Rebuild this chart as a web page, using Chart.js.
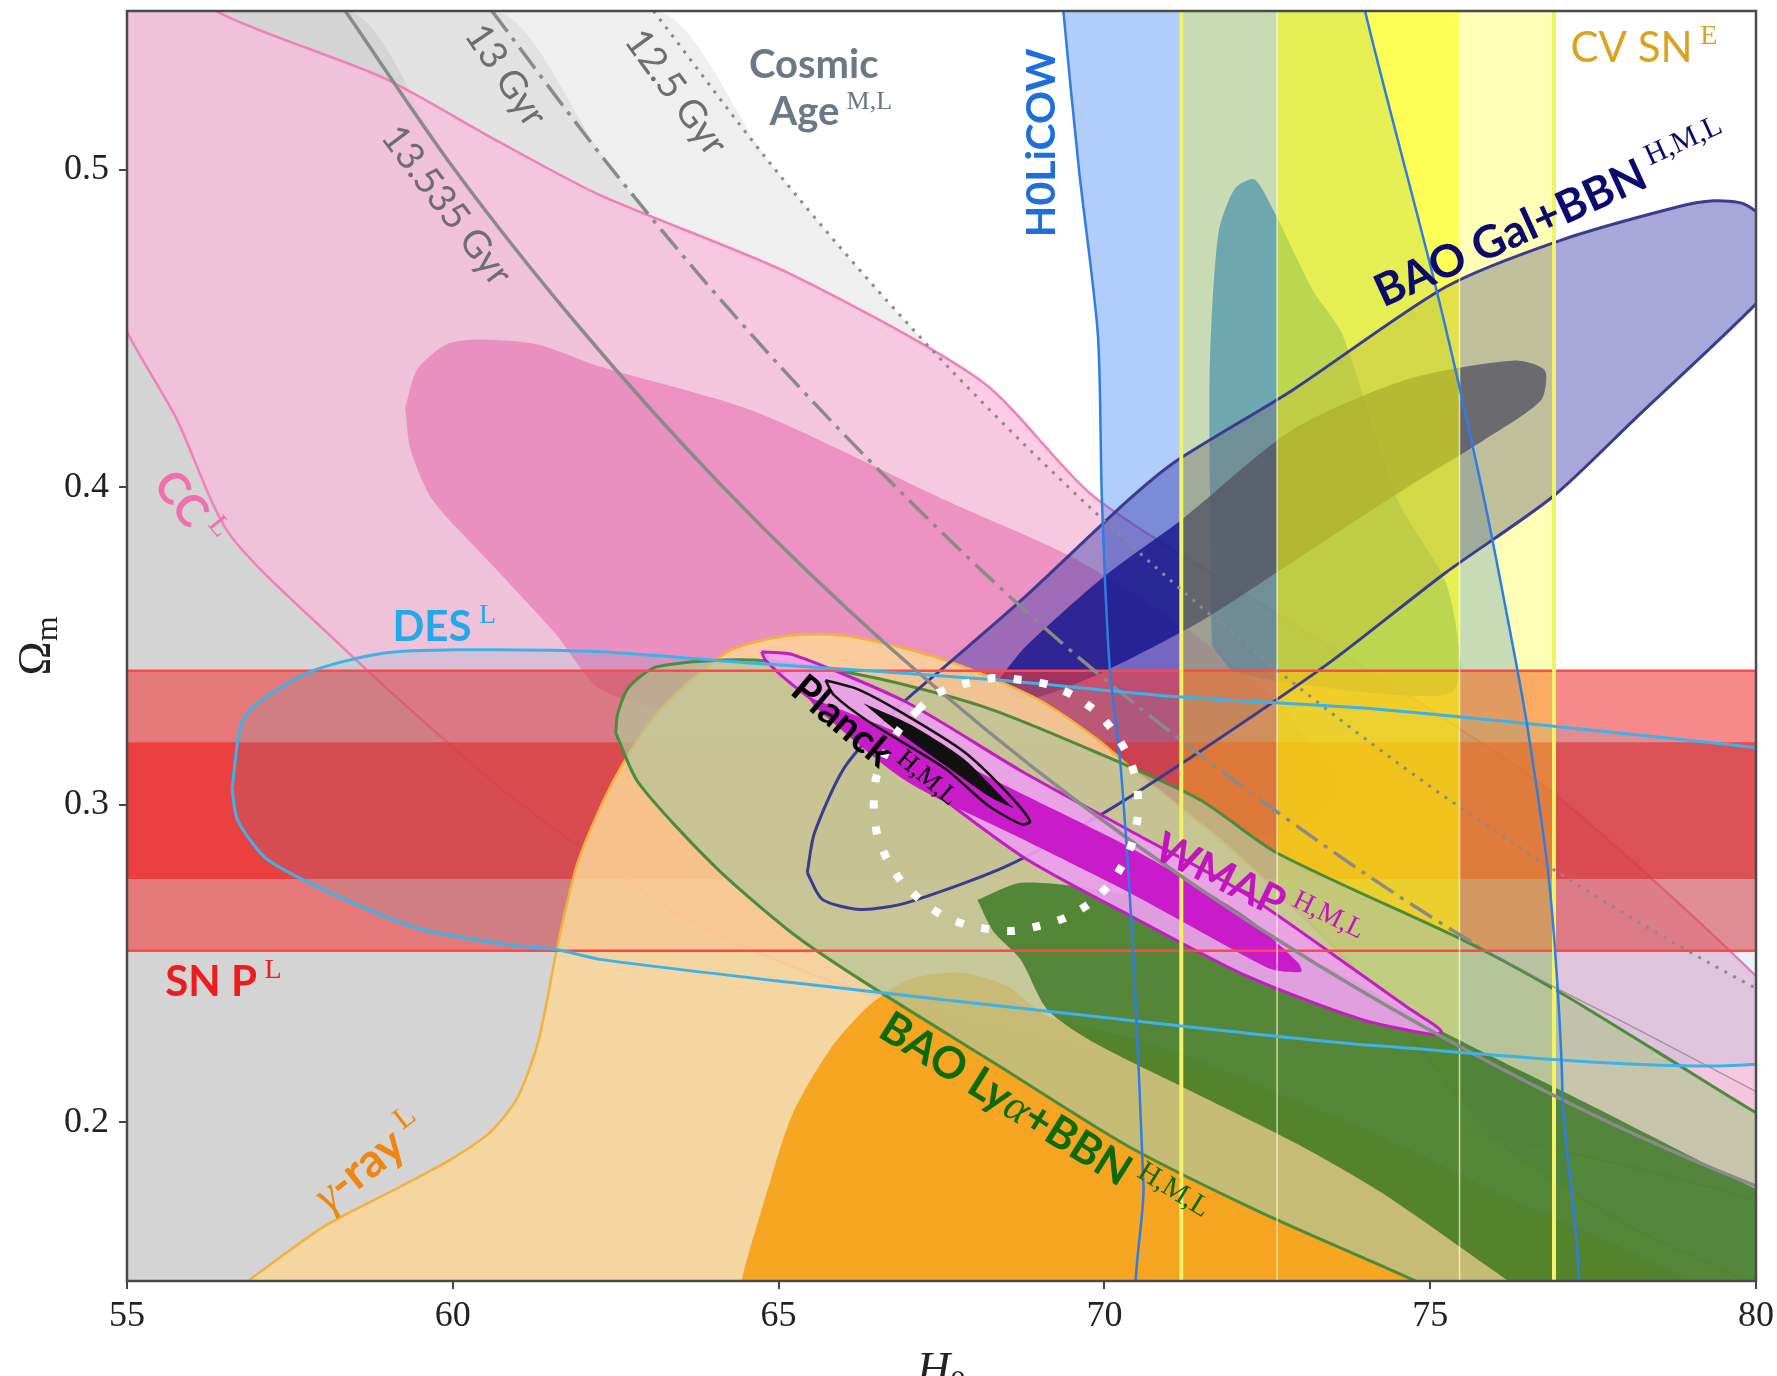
<!DOCTYPE html>
<html>
<head>
<meta charset="utf-8">
<title>H0 – Omega_m constraints</title>
<script src="https://cdn.jsdelivr.net/npm/chart.js@4.4.1/dist/chart.umd.min.js"></script>
<style>
  html, body { margin: 0; padding: 0; background: #fff; }
  canvas { display: block; }
</style>
</head>
<body>
<canvas id="chart" width="1777" height="1376"></canvas>
<script>
// ---------- axis ticks ----------
const xTicks = [55, 60, 65, 70, 75, 80];
const yTicks = [0.2, 0.3, 0.4, 0.5];

// ---------- cosmic age curves, [H0, Omega_m] ----------
const age13535 = [[58.35,0.55],[60.03,0.50],[61.96,0.45],[64.15,0.40],[66.68,0.35],[69.65,0.30],[73.24,0.25],[77.74,0.20],[83.7,0.15]];
const age13    = [[60.6,0.55],[62.45,0.50],[64.5,0.45],[66.8,0.40],[69.4,0.35],[72.5,0.30],[75.7,0.256],[78.3,0.228],[80.9,0.20]];
const age125   = [[63.08,0.55],[64.95,0.50],[67.05,0.45],[69.45,0.40],[72.2,0.35],[75.4,0.30],[79.3,0.25],[84.2,0.20]];

// ---------- cosmic chronometers ----------
const ccOuter = [[53.0,0.60],[54.5,0.575],[56.46,0.549],[58.93,0.529],[60.69,0.509],[62.26,0.492],[65.2,0.467],[68.14,0.433],[69.84,0.397],[72.5,0.362],[75.0,0.33],[76.95,0.3026],[80.0,0.246],[82.0,0.20],[84.0,0.16],[83.0,0.14],[80.0,0.175],[75.0,0.20],[70.0,0.222],[66.0,0.243],[63.5,0.265],[61.86,0.288],[60.69,0.306],[59.51,0.327],[58.34,0.349],[56.58,0.385],[55.75,0.422],[55.05,0.447],[54.3,0.48],[53.3,0.54],[53.0,0.60]];
const ccInner = [[59.27,0.425],[59.45,0.437],[59.9,0.445],[60.4,0.4465],[61.3,0.445],[62.26,0.438],[64.61,0.424],[67.55,0.396],[69.5,0.378],[71.3,0.355],[72.6,0.333],[73.4,0.313],[73.5,0.303],[73.0,0.294],[72.0,0.288],[70.44,0.29],[68.09,0.304],[65.16,0.322],[63.0,0.331],[62.22,0.337],[61.57,0.354],[60.63,0.375],[59.69,0.396],[59.35,0.412],[59.27,0.425]];

// ---------- supernovae (Pantheon), Omega_m bands ----------
const snpOuter = [0.254, 0.3422];
const snpInner = [0.2766, 0.3197];

// ---------- gamma-ray attenuation ----------
const gammaOuter = [[56.9,0.1507],[58.05,0.1675],[59.22,0.180],[59.98,0.1884],[60.57,0.1968],[60.98,0.2073],[61.28,0.223],[61.45,0.2387],[61.6,0.255],[61.92,0.282],[62.45,0.307],[63.14,0.329],[64.2,0.348],[65.05,0.353],[65.9,0.3535],[66.8,0.350],[67.84,0.3435],[69.0,0.333],[69.9,0.3205],[70.5,0.31],[72.0,0.285],[74.0,0.245],[76.0,0.195],[78.0,0.168],[80.0,0.148],[81.0,0.13],[56.5,0.13],[56.9,0.1507]];
const gammaInner = [[64.3,0.13],[64.44,0.1506],[64.79,0.1758],[65.2,0.202],[65.79,0.223],[66.38,0.2366],[67.0,0.245],[67.79,0.2471],[68.5,0.243],[69.12,0.2335],[70.86,0.224],[72.39,0.2115],[74.24,0.1957],[76.0,0.178],[78.0,0.16],[80.0,0.14],[81.0,0.12],[64.3,0.12],[64.3,0.13]];

// ---------- DES ----------
const desContour = [[56.61,0.305],[56.81,0.3278],[57.75,0.3414],[58.93,0.3477],[60.1,0.3488],[62.26,0.3482],[64.61,0.3446],[68.37,0.3393],[71.12,0.334],[74.24,0.330],[80.0,0.318],[83.0,0.31],[84.5,0.28],[83.5,0.24],[80.0,0.2183],[74.24,0.224],[70.0,0.233],[65.2,0.244],[62.26,0.2513],[61.57,0.2545],[60.98,0.2555],[59.51,0.2608],[58.34,0.2702],[57.16,0.2827],[56.7,0.295],[56.61,0.305]];

// ---------- H0LiCOW lensing ----------
const holicowOuter = [[69.3,0.57],[69.37,0.55],[69.61,0.50],[69.9,0.448],[69.96,0.397],[70.08,0.3435],[70.25,0.312],[70.45,0.25],[70.6,0.18],[70.68,0.13],[77.0,0.13],[77.03,0.2078],[76.95,0.244],[76.8,0.2806],[76.49,0.3247],[76.28,0.3488],[75.82,0.397],[75.11,0.461],[74.0,0.55],[73.85,0.57],[69.3,0.57]];
const holicowInner = [[71.65,0.35],[71.62,0.40],[71.62,0.44],[71.75,0.48],[72.0,0.494],[72.3,0.497],[72.6,0.487],[73.2,0.462],[73.65,0.4483],[74.5,0.396],[75.24,0.37],[75.47,0.343],[75.3,0.335],[74.2,0.335],[73.0,0.338],[72.0,0.342],[71.65,0.35]];

// ---------- BAO galaxies + BBN ----------
const baoGalOuter = [[65.44,0.2786],[65.55,0.2911],[66.02,0.312],[66.85,0.331],[67.55,0.3435],[68.73,0.3645],[70.37,0.396],[71.12,0.4085],[72.88,0.4305],[75.23,0.463],[76.99,0.4777],[78.76,0.4881],[79.35,0.4902],[79.82,0.4892],[80.25,0.482],[80.45,0.47],[80.0,0.4578],[78.17,0.4221],[76.88,0.397],[75.23,0.373],[73.47,0.345],[71.43,0.3163],[69.9,0.2963],[68.49,0.2806],[66.96,0.2691],[66.26,0.267],[65.67,0.2702],[65.44,0.2786]];
const baoGalInner = [[68.4,0.34],[68.8,0.35],[70.0,0.372],[71.2,0.39],[72.88,0.418],[74.65,0.434],[76.29,0.4399],[76.76,0.4368],[76.7,0.4274],[75.82,0.4148],[74.65,0.40],[73.0,0.378],[71.5,0.358],[70.0,0.342],[69.0,0.334],[68.6,0.334],[68.4,0.34]];

// ---------- Cepheid-variable supernovae, H0 bands ----------
const cvsnOuter = [71.18, 76.9];
const cvsnInner = [72.65, 75.45];

// ---------- BAO Lyman-alpha + BBN ----------
const baoLyaOuter = [[62.5,0.3226],[62.53,0.3286],[62.7,0.337],[63.14,0.3435],[64.61,0.3456],[66.38,0.3404],[68.14,0.3309],[69.9,0.3163],[71.47,0.3015],[72.65,0.2848],[75.59,0.2565],[77.0,0.2408],[78.5,0.222],[80.0,0.203],[82.0,0.18],[83.5,0.155],[83.0,0.12],[80.0,0.11],[77.0,0.13],[74.24,0.1549],[72.39,0.1717],[70.35,0.1926],[68.3,0.2188],[66.25,0.245],[65.2,0.2597],[64.02,0.2806],[62.85,0.3069],[62.5,0.3226]];
const baoLyaInner = [[68.05,0.27],[68.73,0.2754],[69.9,0.2733],[71.43,0.266],[73.5,0.248],[75.24,0.228],[77.5,0.205],[80.0,0.179],[82.0,0.16],[82.0,0.12],[78.0,0.125],[76.2,0.15],[74.24,0.178],[72.91,0.1937],[71.37,0.2094],[69.84,0.2251],[69.12,0.2356],[68.71,0.2513],[68.3,0.26],[68.05,0.27]];

// ---------- WMAP ----------
const wmapOuter = [[64.74,0.3482],[65.23,0.3472],[66.97,0.3322],[68.71,0.3108],[70.45,0.2912],[72.19,0.2716],[73.93,0.2467],[74.7,0.2355],[75.06,0.2307],[75.17,0.2285],[75.06,0.2275],[73.93,0.2325],[72.19,0.246],[70.45,0.2645],[68.71,0.2841],[66.27,0.3215],[65.2,0.338],[64.8,0.3455],[64.74,0.3482]];
const wmapInner = [[65.45,0.334],[66.97,0.3215],[68.71,0.3037],[70.45,0.2859],[72.19,0.2645],[72.97,0.2503],[73.02,0.2474],[72.6,0.248],[72.19,0.252],[70.45,0.2716],[68.71,0.2895],[66.97,0.3073],[65.58,0.3304],[65.45,0.334]];

// ---------- Planck ----------
const planckOuter = [[65.72,0.3392],[66.2,0.3365],[66.85,0.3295],[67.84,0.3168],[68.5,0.304],[68.86,0.2948],[68.73,0.2938],[68.2,0.300],[67.55,0.3115],[66.38,0.3262],[65.85,0.3345],[65.72,0.3392]];
const planckInner = [[66.3,0.332],[67.0,0.3255],[67.84,0.3145],[68.5,0.301],[68.6,0.299],[68.2,0.303],[67.55,0.3125],[66.8,0.3235],[66.3,0.332]];

// ---------- combined contour (white dotted) ----------
const dottedLoop = [[67.14,0.3299],[67.43,0.3351],[67.9,0.3383],[68.31,0.3399],[68.73,0.3393],[69.14,0.3378],[69.55,0.3341],[69.9,0.3289],[70.16,0.3226],[70.37,0.3152],[70.49,0.3074],[70.52,0.2985],[70.46,0.2901],[70.31,0.2822],[70.08,0.2749],[69.75,0.2686],[69.4,0.2644],[68.99,0.2618],[68.55,0.2602],[67.96,0.2618],[67.58,0.2644],[67.23,0.2691],[66.9,0.2754],[66.67,0.2827],[66.52,0.2901],[66.46,0.2985],[66.49,0.3079],[66.64,0.3163],[66.85,0.3236],[67.14,0.3299]];

// ---------- text labels ----------
const labels = [
  {h: 55.97, om: 0.3935, angle: 51, size: 44, color: '#f26fae', parts: [['CC','b'],['L','sup']]},
  {h: 59.87, om: 0.3564, angle: 0, size: 42, color: '#22a9ec', parts: [['DES','b'],['L','sup']]},
  {h: 56.48, om: 0.2446, angle: 0, size: 42, color: '#ee1c1c', parts: [['SN P','b'],['L','sup']]},
  {h: 58.71, om: 0.188, angle: -38, size: 47, color: '#f0850f', parts: [['\u03b3','it'],['-ray','b'],['L','sup']]},
  {h: 69.06, om: 0.2004, angle: 32, size: 44, color: '#0b6b0b', parts: [['BAO Ly','b'],['\u03b1','it'],['+BBN','b'],['H,M,L','sup']]},
  {h: 72.36, om: 0.2724, angle: 26, size: 42, color: '#c214c2', parts: [['WMAP','b'],['H,M,L','sup']]},
  {h: 66.45, om: 0.3187, angle: 40, size: 40, color: '#000000', parts: [['Planck','b'],['H,M,L','sup']]},
  {h: 76.85, om: 0.4862, angle: -24.5, size: 45, color: '#0b0b6e', parts: [['BAO Gal+BBN','b'],['H,M,L','sup']]},
  {h: 69.02, om: 0.5085, angle: -90, size: 41, color: '#1e6fdc', parts: [['H0LiCOW','b']]},
  {h: 78.28, om: 0.5388, angle: 0, size: 42, color: '#dca21e', parts: [['CV SN','r'],['E','sup']]},
  {h: 65.54, om: 0.5335, angle: 0, size: 40, color: '#6a7888', parts: [['Cosmic','b']]},
  {h: 65.8, om: 0.5185, angle: 0, size: 40, color: '#6a7888', parts: [['Age','b'],['M,L','sup']]},
  {h: 59.92, om: 0.489, angle: 53, size: 38, color: '#6e6e6e', parts: [['13.535 Gyr','r']]},
  {h: 60.83, om: 0.5299, angle: 56, size: 38, color: '#6e6e6e', parts: [['13 Gyr','r']]},
  {h: 63.44, om: 0.5246, angle: 54, size: 38, color: '#6e6e6e', parts: [['12.5 Gyr','r']]}
];

// ---------- dataset builders ----------
const toXY = arr => arr.map(([x, y]) => ({x, y}));
const datasets = [];

function addShape(data, color, tension) {
  datasets.push({
    data: toXY(data), fill: 'shape', backgroundColor: color,
    borderWidth: 0, borderColor: 'rgba(0,0,0,0)', pointRadius: 0,
    tension: tension === undefined ? 0.25 : tension
  });
}
function addLine(data, color, width, dash, mode, tension, segment) {
  const ds = {
    data: toXY(data), fill: false, borderColor: color, borderWidth: width,
    borderDash: dash || [], pointRadius: 0,
    tension: tension === undefined ? 0.25 : tension,
    cubicInterpolationMode: mode || 'default', borderCapStyle: 'butt'
  };
  if (segment) ds.segment = segment;
  datasets.push(ds);
}
function addAgeFill(data, color) {
  datasets.push({
    data: toXY([[54.5, 0.55], ...data]), fill: 'start', backgroundColor: color,
    borderWidth: 0, pointRadius: 0, cubicInterpolationMode: 'monotone'
  });
}
function addHBand(lo, hi, color) {
  datasets.push({
    data: toXY([[54, hi], [81, hi]]), fill: {value: lo}, backgroundColor: color,
    borderWidth: 0, pointRadius: 0
  });
}
function addVBand(lo, hi, color) {
  addShape([[lo, 0.1], [lo, 0.6], [hi, 0.6], [hi, 0.1], [lo, 0.1]], color, 0);
}

// drawing order: bottom to top
addAgeFill(age125, '#efefef');
addAgeFill(age13, '#e2e2e2');
addAgeFill(age13535, '#d4d4d4');
addShape(ccOuter, 'rgba(250,188,220,0.75)');
addShape(ccInner, 'rgba(230,110,175,0.6)');
addLine(ccOuter, '#f27fb7', 2.5);
addShape(holicowOuter, 'rgba(60,130,240,0.4)');
addShape(holicowInner, 'rgba(20,110,240,0.77)');
addShape(baoGalOuter, 'rgba(60,60,170,0.45)');
addShape(baoGalInner, 'rgba(20,20,140,0.8)');
addHBand(snpOuter[0], snpOuter[1], 'rgba(240,60,60,0.6)');
addHBand(snpInner[0], snpInner[1], 'rgba(240,40,40,0.7)');
addShape(desContour, 'rgba(70,160,190,0.13)');
addVBand(cvsnOuter[0], cvsnOuter[1], 'rgba(255,255,0,0.28)');
addVBand(cvsnInner[0], cvsnInner[1], 'rgba(255,255,0,0.54)');
addShape(gammaOuter, 'rgba(252,214,150,0.85)');
addShape(gammaInner, 'rgba(245,160,20,0.9)');
addLine(gammaOuter, '#f2b13a', 2.5);
addShape(baoLyaOuter, 'rgba(180,195,150,0.72)');
addShape(baoLyaInner, 'rgba(40,110,20,0.72)');
addLine(baoLyaOuter, '#4b8b3b', 3);
addLine(baoGalOuter, '#3b3b8f', 3);
addShape(wmapOuter, 'rgba(235,160,235,0.92)');
addShape(wmapInner, 'rgba(200,20,200,0.95)');
addLine(wmapOuter, '#c41cc4', 3);
addShape(planckInner, '#111111');
addLine(planckOuter, '#111111', 2.5);
addLine([[54, snpOuter[0]], [81, snpOuter[0]]], '#ff4848', 2.5, [], 'default', 0);
addLine([[54, snpOuter[1]], [81, snpOuter[1]]], '#ff4848', 2.5, [], 'default', 0);
addLine([[cvsnInner[0], 0.1], [cvsnInner[0], 0.6]], 'rgba(255,255,210,0.7)', 1.5, [], 'default', 0);
addLine([[cvsnInner[1], 0.1], [cvsnInner[1], 0.6]], 'rgba(255,255,210,0.7)', 1.5, [], 'default', 0);
addLine([[cvsnOuter[0], 0.1], [cvsnOuter[0], 0.6]], '#f2f266', 4, [], 'default', 0);
addLine([[cvsnOuter[1], 0.1], [cvsnOuter[1], 0.6]], '#f2f266', 4, [], 'default', 0);
addLine(age13535, '#8a8a8a', 3.5, [], 'monotone');
// 13 Gyr: dash-dot down to ~0.256, thin continuation below
addLine(age13, '#8a8a8a', 3.5, [26, 8, 4, 8], 'monotone', 0.25, {
  borderDash: c => (c.p0.parsed.y < 0.26 ? [] : undefined),
  borderWidth: c => (c.p0.parsed.y < 0.26 ? 1.5 : undefined),
  borderColor: c => (c.p0.parsed.y < 0.26 ? 'rgba(130,130,130,0.7)' : undefined)
});
addLine(age125, '#8a8a8a', 3, [3, 7], 'monotone');
addLine(desContour, '#3db2e8', 3);
addLine(holicowOuter, '#2f7de0', 2.5);
addLine(dottedLoop, '#ffffff', 8, [8, 18]);

datasets.forEach((d, i) => { d.order = datasets.length - i; });

// ---------- text drawing ----------
const FONT = {
  b: s => `bold ${s}px Lato`,
  r: s => `${s}px Lato`,
  it: s => `italic ${s}px "Liberation Serif"`,
  sup: s => `${Math.round(s * 0.66)}px "Liberation Serif"`
};

const labelPlugin = {
  id: 'regionLabels',
  afterDatasetsDraw(chart) {
    const {ctx, scales: {x, y}} = chart;
    for (const L of labels) {
      const px = x.getPixelForValue(L.h), py = y.getPixelForValue(L.om);
      ctx.save();
      ctx.translate(px, py);
      ctx.rotate(L.angle * Math.PI / 180);
      let total = 0;
      const segs = L.parts.map(([t, kind]) => {
        ctx.font = FONT[kind](L.size);
        const w = ctx.measureText(t).width;
        const gap = kind === 'sup' ? 0.18 * L.size : 0;
        total += w + gap;
        return {t, kind, w, gap};
      });
      let cx = -total / 2;
      ctx.fillStyle = L.color;
      ctx.textAlign = 'left';
      ctx.textBaseline = 'alphabetic';
      const base = 0.36 * L.size;
      for (const s of segs) {
        cx += s.gap;
        ctx.font = FONT[s.kind](L.size);
        ctx.fillText(s.t, cx, s.kind === 'sup' ? base - 0.42 * L.size : base);
        cx += s.w;
      }
      ctx.restore();
    }
  }
};

const framePlugin = {
  id: 'frameAndTitles',
  afterDraw(chart) {
    const {ctx, chartArea: a} = chart;
    ctx.save();
    ctx.strokeStyle = '#4a4a4a';
    ctx.lineWidth = 2.5;
    ctx.strokeRect(a.left, a.top, a.right - a.left, a.bottom - a.top);
    ctx.fillStyle = '#222';
    // x title: H_0
    const cx = (a.left + a.right) / 2;
    ctx.font = 'italic 46px "Liberation Serif"';
    const wH = ctx.measureText('H').width;
    ctx.font = '32px "Liberation Serif"';
    const w0 = ctx.measureText('0').width;
    let sx = cx - (wH + w0) / 2;
    ctx.font = 'italic 46px "Liberation Serif"';
    ctx.fillText('H', sx, 1384);
    ctx.font = '32px "Liberation Serif"';
    ctx.fillText('0', sx + wH, 1392);
    // y title: Omega_m
    ctx.translate(50, (a.top + a.bottom) / 2);
    ctx.rotate(-Math.PI / 2);
    ctx.font = '46px "Liberation Serif"';
    const wO = ctx.measureText('\u03a9').width;
    ctx.font = '32px "Liberation Serif"';
    const wm = ctx.measureText('m').width;
    sx = -(wO + wm) / 2;
    ctx.font = '46px "Liberation Serif"';
    ctx.fillText('\u03a9', sx, 0);
    ctx.font = '32px "Liberation Serif"';
    ctx.fillText('m', sx + wO, 7);
    ctx.restore();
  }
};

function draw() {
  new Chart(document.getElementById('chart'), {
    type: 'line',
    data: {datasets},
    options: {
      responsive: false,
      animation: false,
      devicePixelRatio: 1,
      layout: {padding: {left: 0, right: 21, top: 11, bottom: 0}},
      elements: {line: {capBezierPoints: false}, point: {radius: 0}},
      plugins: {legend: {display: false}, tooltip: {enabled: false}, filler: {propagate: false}},
      scales: {
        x: {
          type: 'linear', min: 55, max: 80,
          afterFit: s => { s.height = 95; s.paddingLeft = 0; s.paddingRight = 0; },
          afterBuildTicks: s => { s.ticks = xTicks.map(v => ({value: v})); },
          border: {display: false},
          grid: {display: true, drawOnChartArea: false, drawTicks: true, tickLength: 8, color: '#444', lineWidth: 2},
          ticks: {font: {family: 'Liberation Serif', size: 36}, color: '#222', padding: 6, maxRotation: 0,
                  callback: v => String(v)}
        },
        y: {
          type: 'linear', min: 0.15, max: 0.55,
          afterFit: s => { s.width = 127; s.paddingTop = 0; s.paddingBottom = 0; },
          afterBuildTicks: s => { s.ticks = yTicks.map(v => ({value: v})); },
          border: {display: false},
          grid: {display: true, drawOnChartArea: false, drawTicks: true, tickLength: 8, color: '#444', lineWidth: 2},
          ticks: {font: {family: 'Liberation Serif', size: 36}, color: '#222', padding: 10,
                  callback: v => String(v)}
        }
      }
    },
    plugins: [labelPlugin, framePlugin]
  });
}

const fontSpecs = ['bold 40px Lato', '40px Lato', 'italic 40px "Liberation Serif"', '36px "Liberation Serif"'];
Promise.all(fontSpecs.map(f => document.fonts.load(f))).catch(() => {}).then(draw);
</script>
</body>
</html>
